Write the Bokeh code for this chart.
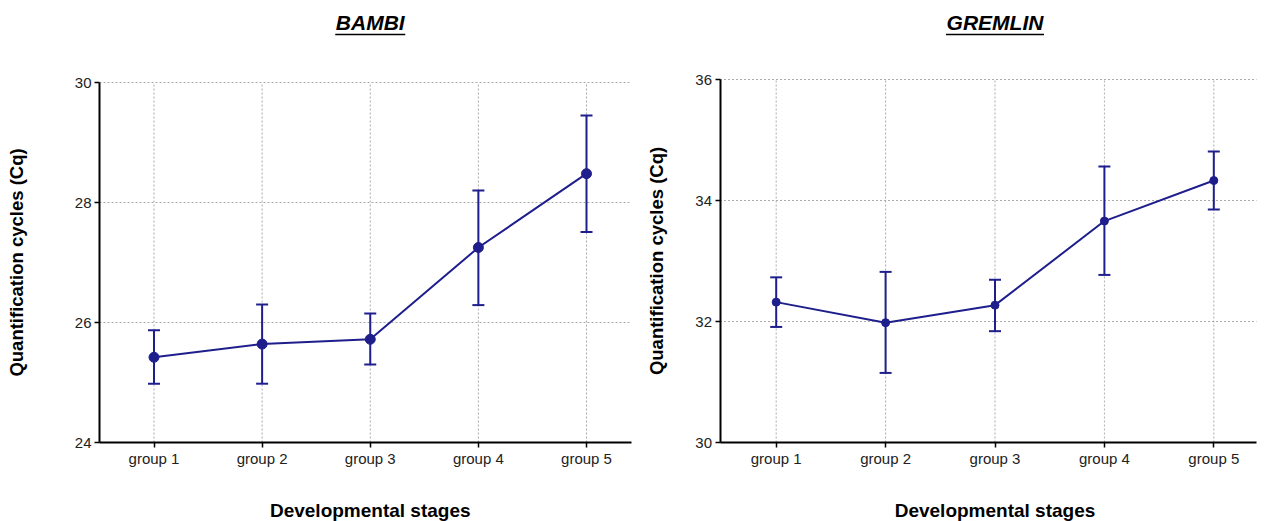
from bokeh.plotting import figure
from bokeh.layouts import row
from bokeh.models import Range1d, FixedTicker, Whisker, TeeHead, ColumnDataSource
from bokeh.core.properties import value
from bokeh.embed import file_html
from bokeh.resources import INLINE

# Developmental stage groups
groups = ["group 1", "group 2", "group 3", "group 4", "group 5"]
positions = [1, 2, 3, 4, 5]

# BAMBI Cq: mean with lower / upper error limits
bambi_mean = [25.42, 25.64, 25.72, 27.25, 28.48]
bambi_low = [24.98, 24.98, 25.30, 26.29, 27.51]
bambi_high = [25.87, 26.30, 26.15, 28.20, 29.45]

# GREMLIN Cq: mean with lower / upper error limits
gremlin_mean = [32.32, 31.98, 32.27, 33.66, 34.33]
gremlin_low = [31.91, 31.15, 31.84, 32.77, 33.85]
gremlin_high = [32.73, 32.82, 32.69, 34.56, 34.81]

bambi_yticks = [24, 26, 28, 30]
gremlin_yticks = [30, 32, 34, 36]

BLUE = "#1e1e8c"
GRID = "#ababab"
FONT = "Liberation Sans"
HEIGHT = 521


def make_panel(title, mean, low, high, yticks, width, box, marker_size, ylabel_standoff):
    """One panel. The frame covers the whole canvas; both axes are pinned at
    the lower-left corner of the data box so heading and labels fit around it.
    box = (axis_x, first_group_x, last_group_x, right_x, top_y, bottom_y) in px."""
    ax_px, g1_px, gn_px, right_px, bt, bb = box
    sx = (gn_px - g1_px) / (positions[-1] - positions[0])
    x0 = positions[0] - (g1_px - ax_px) / sx           # value axis position
    x_end = positions[-1] + (right_px - gn_px) / sx     # right end of the box
    sy = (bb - bt) / (yticks[-1] - yticks[0])
    xr = (x0 - ax_px / sx, x0 + (width - ax_px) / sx)
    yr = (yticks[0] - (HEIGHT - bb) / sy, yticks[-1] + bt / sy)

    p = figure(width=width, height=HEIGHT, output_backend="svg", toolbar_location=None,
               title=None, x_range=Range1d(*xr), y_range=Range1d(*yr), min_border=0)
    p.outline_line_color = None
    p.background_fill_color = "white"
    p.border_fill_color = "white"
    p.xgrid.visible = False
    p.ygrid.visible = False

    n = len(positions)
    m = len(yticks) - 1
    # dotted guide lines limited to the data box
    p.segment(x0=positions, x1=positions, y0=[yticks[0]] * n, y1=[yticks[-1]] * n,
              line_color=GRID, line_width=1, line_dash="2 2")
    p.segment(x0=[x0] * m, x1=[x_end] * m, y0=yticks[1:], y1=yticks[1:],
              line_color=GRID, line_width=1, line_dash="2 2")

    src = ColumnDataSource(dict(x=positions, mean=mean, low=low, high=high))

    # error bars with flat caps
    w = Whisker(source=src, base="x", lower="low", upper="high", dimension="height",
                line_color=BLUE, line_width=2, level="annotation",
                upper_head=TeeHead(size=12, line_color=BLUE, line_width=2),
                lower_head=TeeHead(size=12, line_color=BLUE, line_width=2))
    p.add_layout(w)
    p.line("x", "mean", source=src, line_color=BLUE, line_width=2)
    p.scatter("x", "mean", source=src, size=marker_size, color=BLUE)

    # axes pinned to the corner of the data box
    for ax in (p.xaxis[0], p.yaxis[0]):
        ax.axis_line_width = 2
        ax.axis_line_color = "black"
        ax.major_tick_line_color = "black"
        ax.major_tick_line_width = 1.5
        ax.major_tick_out = 5
        ax.major_tick_in = 0
        ax.minor_tick_line_color = None
        ax.major_label_text_font = FONT
        ax.major_label_text_font_size = "15px"
        ax.major_label_text_color = "#222222"

    p.xaxis.fixed_location = yticks[0]
    p.xaxis.bounds = (x0, x_end)
    p.xaxis.ticker = FixedTicker(ticks=positions)
    p.xaxis.major_label_overrides = {k: g for k, g in zip(positions, groups)}
    p.xaxis.major_label_standoff = 2

    p.yaxis.fixed_location = x0
    p.yaxis.bounds = (yticks[0], yticks[-1])
    p.yaxis.ticker = FixedTicker(ticks=yticks)
    p.yaxis.major_label_standoff = 3
    p.yaxis.axis_label = "Quantification cycles (Cq)"
    p.yaxis.axis_label_standoff = ylabel_standoff
    p.yaxis.axis_label_text_font = FONT
    p.yaxis.axis_label_text_font_size = "18.5px"
    p.yaxis.axis_label_text_font_style = "bold"
    p.yaxis.axis_label_text_color = "black"

    cx = sum(positions) / n
    # category axis title
    p.text(x=[cx], y=[yticks[0] - 68 / sy], text=["Developmental stages"],
           text_font=value(FONT), text_font_size="19px", text_font_style="bold",
           text_align="center", text_baseline="middle", text_color="black")

    # underlined heading
    ty = yticks[-1] + (bt - 22) / sy
    uy = yticks[-1] + (bt - 34) / sy
    half = len(title) * 7.0 / sx
    p.text(x=[cx], y=[ty], text=[title], text_font=value(FONT), text_font_size="21px",
           text_font_style="bold italic", text_align="center", text_baseline="middle",
           text_color="black")
    p.segment(x0=[cx - half], x1=[cx + half], y0=[uy], y1=[uy], line_color="black",
              line_width=1.5)
    return p


# data boxes in pixels of each canvas
left_panel = make_panel("BAMBI", bambi_mean, bambi_low, bambi_high, bambi_yticks,
                        640, (99, 153.5, 586, 631, 82, 442), 10, 45)
right_panel = make_panel("GREMLIN", gremlin_mean, gremlin_low, gremlin_high,
                         gremlin_yticks, 626, (79.5, 135.7, 573.3, 616, 79, 442), 8, 26)

layout = row(left_panel, right_panel)
open("out.html", "w").write(file_html(layout, INLINE))
